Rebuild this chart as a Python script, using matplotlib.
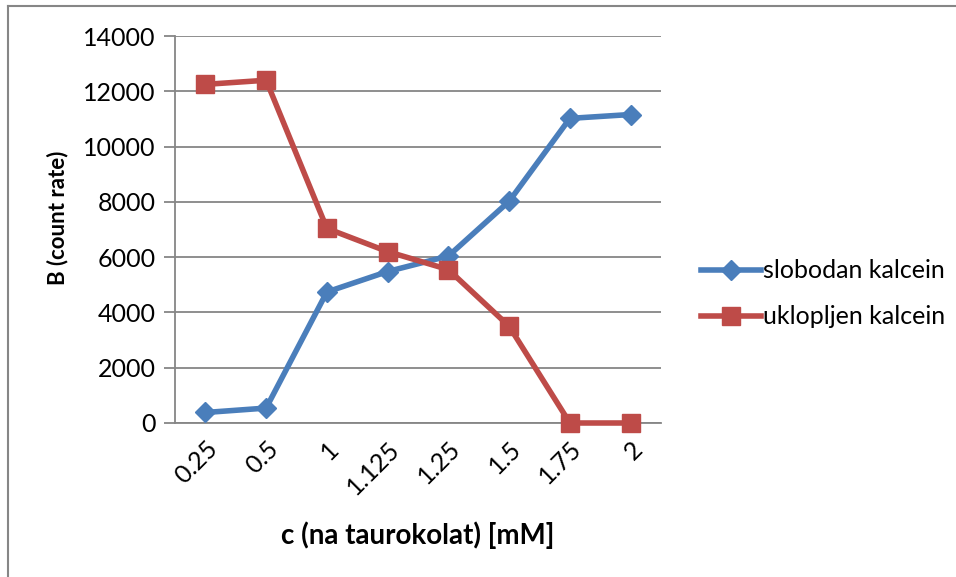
import matplotlib
matplotlib.use("Agg")
import matplotlib.pyplot as plt
from matplotlib.lines import Line2D

categories = ["0.25", "0.5", "1", "1.125", "1.25", "1.5", "1.75", "2"]
slobodan = [380, 540, 4740, 5480, 6040, 8020, 11020, 11160]
uklopljen = [12250, 12400, 7040, 6200, 5550, 3500, 0, 0]
yticks = [0, 2000, 4000, 6000, 8000, 10000, 12000, 14000]

plt.rcParams['font.family'] = ['Lato', 'DejaVu Sans']

W, H = 956, 577
fig = plt.figure(figsize=(W/100, H/100), dpi=100)
ax = fig.add_axes([175/W, 1-423/H, (661-175)/W, (423-36)/H])

x = list(range(len(categories)))
blue = '#4a7ebb'
red = '#be4b48'
ax.plot(x, slobodan, color=blue, lw=4, marker='D', ms=10, mec=blue, mfc=blue,
        label='slobodan kalcein', solid_joinstyle='round', clip_on=False, zorder=3)
ax.plot(x, uklopljen, color=red, lw=4, marker='s', ms=13, mec=red, mfc=red,
        label='uklopljen kalcein', solid_joinstyle='round', clip_on=False, zorder=3)

ax.set_xlim(-0.5, len(categories)-0.5)
ax.set_ylim(0, 14000)
ax.set_yticks(yticks)
ax.set_yticklabels([str(v) for v in yticks], fontsize=18)
ax.set_xticks(x)
ax.set_xticklabels(categories, rotation=45, ha='right', rotation_mode='anchor', fontsize=18)
ax.grid(axis='y', color='#868686', lw=1.3)
ax.set_axisbelow(True)
for s in ['top', 'right']:
    ax.spines[s].set_visible(False)
ax.spines['left'].set_color('#868686')
ax.spines['bottom'].set_color('#868686')
ax.spines['left'].set_linewidth(1.3)
ax.spines['bottom'].set_linewidth(1.3)
ax.tick_params(axis='y', length=8, color='#868686', width=1.3, pad=6)
ax.tick_params(axis='x', length=0, pad=10)

ax.set_ylabel('B (count rate)', fontsize=16, fontweight='bold')
ax.yaxis.set_label_coords(-107/486, (423-218)/387)
ax.set_xlabel('c (na taurokolat) [mM]', fontsize=20, fontweight='bold')
ax.xaxis.set_label_coords(0.5, -(521-423)/387)

leg = fig.legend(loc='upper left', bbox_to_anchor=(678/W, 1-237/H), frameon=False,
                 fontsize=18, handlelength=2.4, handletextpad=0.1, labelspacing=0.92)

fig.add_artist(Line2D([8/W, 1], [1-6/H, 1-6/H], color='#868686', lw=1.5))
fig.add_artist(Line2D([8/W, 8/W], [0, 1-6/H], color='#868686', lw=1.5))

fig.savefig('out.png', dpi=100)
